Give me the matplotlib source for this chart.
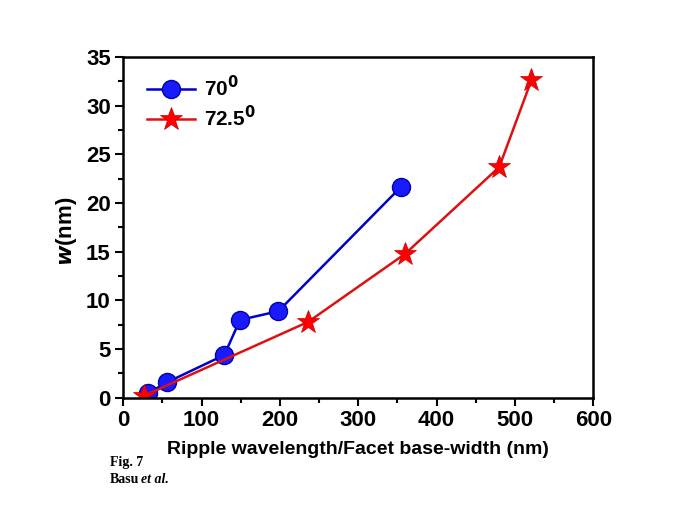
import matplotlib
matplotlib.use('Agg')
import matplotlib.pyplot as plt
from matplotlib.ticker import MultipleLocator

plt.rcParams['font.family'] = ['Liberation Sans', 'DejaVu Sans']
plt.rcParams['font.weight'] = 'bold'
plt.rcParams['mathtext.default'] = 'bf'

# data
x70 = [32, 56, 129, 149, 198, 355]
w70 = [0.5, 1.6, 4.4, 8.0, 8.9, 21.7]
x725 = [26, 236, 360, 480, 521]
w725 = [0.2, 7.8, 14.8, 23.7, 32.6]

fig = plt.figure(figsize=(6.85, 5.14), dpi=100)
ax = fig.add_axes([0.18, 0.226, 0.686, 0.663])

ax.plot(x70, w70, '-o', color='#0000cc', lw=1.8, ms=13, mfc='#1a1aff',
        mec='#0000aa', mew=1, label='70$^{0}$')
ax.plot(x725, w725, '-*', color='#dd1111', lw=1.8, ms=17, mfc='#ff0000',
        mec='#cc0000', mew=0.5, label='72.5$^{0}$')

ax.set_xlim(0, 600)
ax.set_ylim(0, 35)
ax.xaxis.set_major_locator(MultipleLocator(100))
ax.xaxis.set_minor_locator(MultipleLocator(50))
ax.yaxis.set_major_locator(MultipleLocator(5))
ax.yaxis.set_minor_locator(MultipleLocator(2.5))
ax.tick_params(which='major', direction='out', length=6, width=1.5, labelsize=16, pad=3)
ax.tick_params(which='minor', direction='out', length=3.5, width=1.5)
for s in ax.spines.values():
    s.set_linewidth(1.8)
for t in ax.get_xticklabels() + ax.get_yticklabels():
    t.set_fontweight('bold')

ax.set_xlabel('Ripple wavelength/Facet base-width (nm)', fontsize=14, fontweight='bold', labelpad=7)
ax.set_ylabel(r'$\bf{\it{w}}$(nm)', fontsize=16, fontweight='bold')
ax.yaxis.set_label_coords(-0.095, 0.49)

leg = ax.legend(loc='upper left', frameon=False, fontsize=15, handlelength=2.3,
                borderaxespad=0.3, labelspacing=0.25, handletextpad=0.4,
                bbox_to_anchor=(0.02, 0.99))

fig.text(0.16, 0.112, 'Fig. 7', fontsize=10, fontweight='bold', family='Liberation Serif', va='top')
fig.text(0.16, 0.080, 'Basu', fontsize=10, fontweight='bold', family='Liberation Serif', va='top')
fig.text(0.206, 0.080, 'et al.', fontsize=10, fontweight='bold', style='italic',
         family='Liberation Serif', va='top')

fig.savefig('out.png', dpi=100, facecolor='white')
